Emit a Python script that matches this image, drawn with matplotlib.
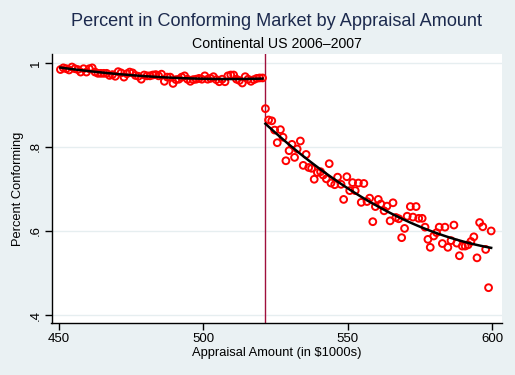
import numpy as np
import matplotlib
matplotlib.use("Agg")
import matplotlib.pyplot as plt

plt.rcParams['font.family'] = ['Liberation Sans', 'DejaVu Sans']

# Left of the conforming limit (1k bins)
left_x = np.arange(450.5, 521, 1.0)
left_y = [0.984, 0.988, 0.986, 0.983, 0.990, 0.986, 0.984, 0.978, 0.986, 0.978,
          0.986, 0.988, 0.978, 0.975, 0.975, 0.975, 0.975, 0.970, 0.972, 0.968,
          0.979, 0.976, 0.966, 0.974, 0.978, 0.976, 0.970, 0.968, 0.961, 0.971,
          0.969, 0.969, 0.971, 0.972, 0.969, 0.973, 0.956, 0.966, 0.966, 0.951,
          0.960, 0.961, 0.966, 0.969, 0.961, 0.956, 0.960, 0.961, 0.963, 0.961,
          0.969, 0.961, 0.963, 0.967, 0.960, 0.955, 0.961, 0.955, 0.969, 0.971,
          0.971, 0.961, 0.958, 0.952, 0.967, 0.961, 0.956, 0.960, 0.963, 0.964,
          0.964]
left_y = left_y[:len(left_x)]

# Right of the conforming limit
right_x = [521.5, 522.6, 523.7, 524.7, 525.6, 526.7, 527.6, 528.6, 529.7, 530.7,
           531.6, 532.5, 533.6, 534.6, 535.6, 536.5, 537.5, 538.4, 539.5, 540.6,
           541.5, 542.6, 543.6, 544.2, 545.5, 546.5, 547.7, 548.6, 549.7, 550.7,
           551.7, 552.6, 553.7, 554.7, 555.6, 556.7, 557.6, 558.7, 559.6, 560.6,
           561.5, 562.6, 563.6, 564.7, 565.7, 566.7, 567.7, 568.7, 569.7, 570.6,
           571.7, 572.6, 573.7, 574.6, 575.8, 576.8, 577.8, 578.6, 579.8, 580.8,
           581.7, 582.8, 583.7, 584.7, 585.8, 586.8, 587.8, 588.7, 589.7, 590.7,
           591.7, 592.7, 593.7, 594.8, 595.7, 596.8, 597.8, 598.8, 599.7]
right_y = [0.891, 0.864, 0.862, 0.840, 0.810, 0.841, 0.823, 0.767, 0.791, 0.806,
           0.775, 0.795, 0.814, 0.756, 0.782, 0.751, 0.749, 0.723, 0.739, 0.741,
           0.733, 0.724, 0.760, 0.714, 0.710, 0.728, 0.711, 0.675, 0.729, 0.696,
           0.715, 0.696, 0.714, 0.668, 0.713, 0.670, 0.678, 0.622, 0.658, 0.675,
           0.664, 0.648, 0.659, 0.624, 0.667, 0.632, 0.629, 0.584, 0.606, 0.635,
           0.658, 0.633, 0.658, 0.630, 0.630, 0.609, 0.580, 0.561, 0.588, 0.596,
           0.609, 0.570, 0.609, 0.561, 0.577, 0.614, 0.571, 0.541, 0.564, 0.564,
           0.567, 0.575, 0.586, 0.536, 0.620, 0.610, 0.556, 0.465, 0.600]

limit = 521.25
xticks = [450, 500, 550, 600]
yticks = [0.4, 0.6, 0.8, 1.0]
ytick_labels = [".4", ".6", ".8", "1"]

bg = "#EAF1F3"
fig = plt.figure(figsize=(5.15, 3.75), dpi=100, facecolor=bg)
ax = fig.add_axes([0.1, 0.1387, 0.875, 0.7173])
ax.set_facecolor("white")

ax.set_xlim(447.4, 603.5)
ax.set_ylim(0.381, 1.021)

for yv in yticks:
    ax.axhline(yv, color="#E6EEF0", lw=1.0, zorder=0)

ax.scatter(left_x, left_y, s=24, facecolors="none", edgecolors="#FF0000",
           linewidths=1.4, zorder=3)
ax.scatter(right_x, right_y, s=24, facecolors="none", edgecolors="#FF0000",
           linewidths=1.4, zorder=3)

# quadratic fits
cl = np.polyfit(left_x, left_y, 2)
xl = np.linspace(min(left_x), max(left_x), 100)
ax.plot(xl, np.polyval(cl, xl), color="black", lw=1.8, zorder=4)
cr = np.polyfit(right_x, right_y, 2)
xr = np.linspace(min(right_x), max(right_x), 100)
ax.plot(xr, np.polyval(cr, xr), color="black", lw=1.8, zorder=4)

ax.axvline(limit, color="#A0103C", lw=1.0, zorder=2)

for s in ["top", "right"]:
    ax.spines[s].set_visible(False)
ax.spines["left"].set_linewidth(1.0)
ax.spines["bottom"].set_linewidth(1.0)

ax.set_xticks(xticks)
ax.set_xticklabels([str(v) for v in xticks], fontsize=9.5)
ax.set_yticks(yticks)
ax.set_yticklabels(ytick_labels, fontsize=9.5, rotation=90, va="center")
ax.tick_params(direction="out", length=5, width=1.0, pad=2)

ax.set_xlabel("Appraisal Amount (in $1000s)", fontsize=9.3, labelpad=2)
ax.set_ylabel("Percent Conforming", fontsize=9.3, labelpad=4)

fig.text(0.5374, 0.944, "Percent in Conforming Market by Appraisal Amount",
         ha="center", va="center", fontsize=13.1, color="#1C2A4E")
fig.text(0.5374, 0.883, "Continental US 2006\u20132007",
         ha="center", va="center", fontsize=10.2, color="black")

fig.savefig("out.png", dpi=100, facecolor=bg)
